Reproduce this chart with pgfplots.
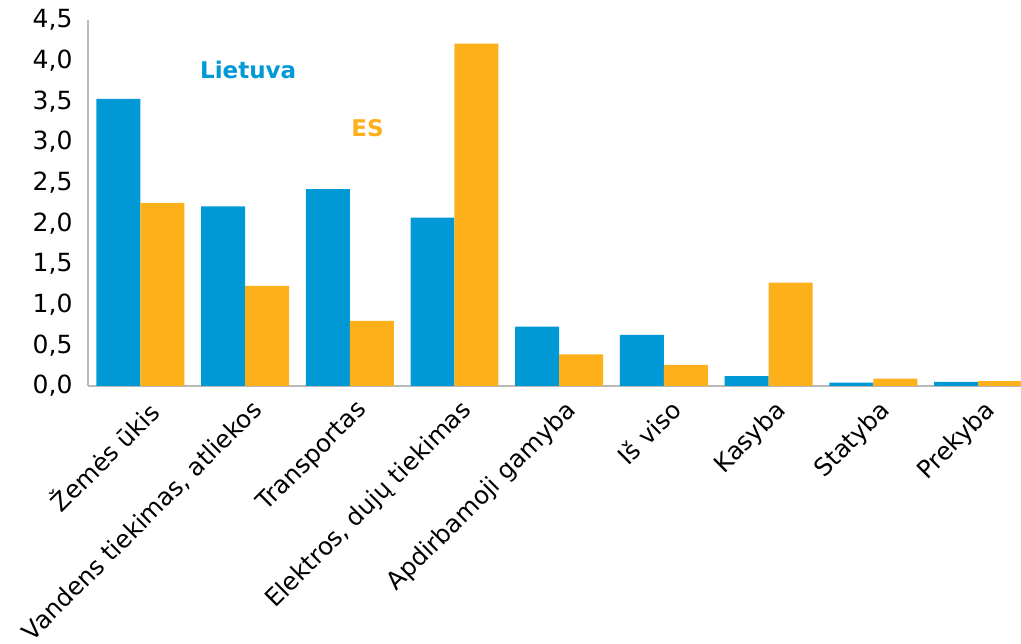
\documentclass[border=0pt]{standalone}
\usepackage{fontspec}
\setmainfont{DejaVu Sans}
\usepackage{pgfplots}
\pgfplotsset{compat=1.18}
\definecolor{ltblue}{RGB}{0,153,214}
\definecolor{esorange}{RGB}{253,176,26}
\begin{document}
\begin{tikzpicture}
\begin{axis}[
  name=main,
  scale only axis, width=933pt, height=366pt,
  ybar=0pt, bar width=0.42,
  xmin=-0.5, xmax=8.41, ymin=0, ymax=4.5,
  ytick={0,0.5,...,4.5},
  xtick={0,...,8},
  xticklabels={Žemės ūkis, {Vandens tiekimas, atliekos}, Transportas, {Elektros, dujų tiekimas}, Apdirbamoji gamyba, Iš viso, Kasyba, Statyba, Prekyba},
  x tick label style={rotate=45, anchor=north east, font=\fontsize{24.5}{27}\selectfont, inner sep=2pt, yshift=-10pt, xshift=-3pt},
  y tick label style={font=\fontsize{25}{28}\selectfont, xshift=-12pt},
  /pgf/number format/.cd, assume math mode=true, use comma, fixed, fixed zerofill, precision=1,
  /pgfplots/.cd,
  major tick length=0pt,
  axis x line*=bottom, axis y line*=left,
  axis line style={draw=gray!55, line width=1.2pt, -},
]
\addplot[fill=ltblue, draw=none] coordinates {(0,3.53) (1,2.21) (2,2.42) (3,2.07) (4,0.73) (5,0.63) (6,0.12) (7,0.04) (8,0.05)};
\addplot[fill=esorange, draw=none] coordinates {(0,2.25) (1,1.23) (2,0.80) (3,4.21) (4,0.39) (5,0.26) (6,1.27) (7,0.09) (8,0.06)};
\node[text=ltblue, font=\bfseries\fontsize{23}{26}\selectfont] at (axis cs:1.03,3.89) {Lietuva};
\node[text=esorange, font=\bfseries\fontsize{23}{26}\selectfont] at (axis cs:2.17,3.17) {ES};
\end{axis}
\pgfresetboundingbox
\path (main.south west) ++(-88pt,-258pt) rectangle ++(1021pt,644pt);
\end{tikzpicture}
\end{document}
